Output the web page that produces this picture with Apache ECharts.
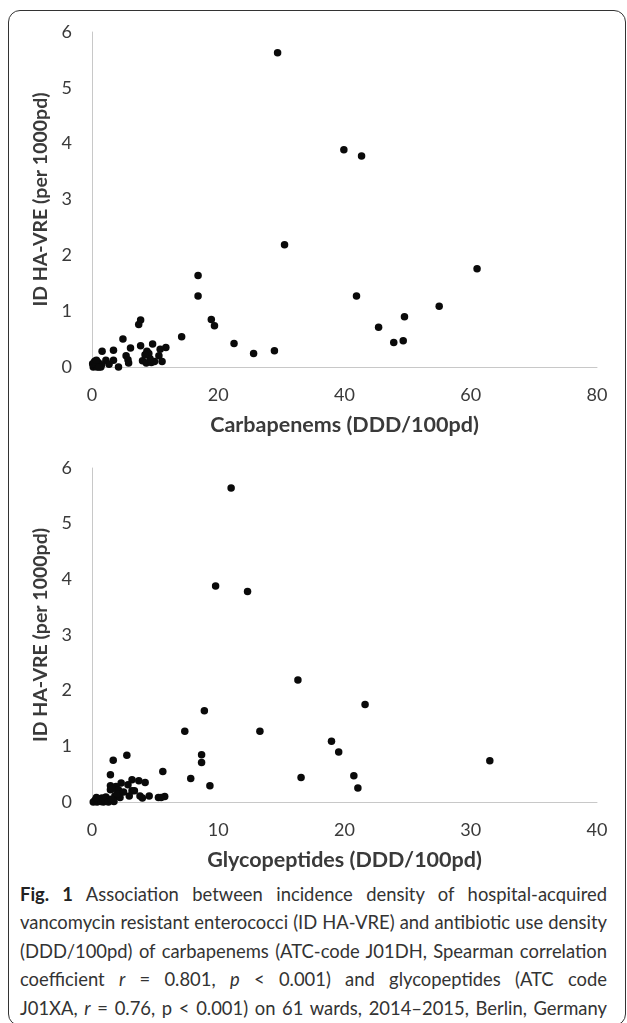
<!DOCTYPE html>
<html>
<head>
<meta charset="utf-8">
<script src="https://cdn.jsdelivr.net/npm/echarts@6/dist/echarts.min.js"></script>
<style>
  html, body { margin: 0; padding: 0; background: #fff; width: 627px; height: 1023px; overflow: hidden; }
  #frame { position: absolute; left: 8px; top: 10px; width: 618px; height: 1016px; border: 1.5px solid #333; border-radius: 12px; box-sizing: border-box; }
  #chart { position: absolute; left: 0; top: 0; width: 627px; height: 875px; }
  #caption { position: absolute; left: 20px; top: 880px; width: 587px; font-family: Lato, "Open Sans", sans-serif; font-size: 18.4px; line-height: 28.4px; color: #333; }
  #caption div { text-align: justify; text-align-last: justify; white-space: nowrap; }
  #caption b { color: #222; }
</style>
</head>
<body>
<div id="frame"></div>
<div id="chart"></div>
<div id="caption">
<div><b>Fig. 1</b> Association between incidence density of hospital-acquired</div>
<div>vancomycin resistant enterococci (ID HA-VRE) and antibiotic use density</div>
<div>(DDD/100pd) of carbapenems (ATC-code J01DH, Spearman correlation</div>
<div>coefficient <i>r</i> = 0.801, <i>p</i> &lt; 0.001) and glycopeptides (ATC code</div>
<div>J01XA, <i>r</i> = 0.76, p &lt; 0.001) on 61 wards, 2014–2015, Berlin, Germany</div>
</div>
<script>
// Carbapenems (DDD/100pd) vs ID HA-VRE
const carbapenemsX = [29.4, 39.9, 42.7, 30.5, 61.0, 16.8, 16.8, 41.9, 55.0, 49.5, 18.9, 19.4, 45.4, 14.2, 22.5, 47.8, 49.3, 25.6, 28.9, 7.7, 7.4, 4.9, 7.7, 9.6, 11.7, 10.8, 6.1, 3.4, 1.6, 8.7, 9.0, 5.4, 10.6, 5.7, 5.8, 8.0, 8.6, 9.4, 9.9, 11.1, 2.2, 3.4, 2.7, 4.2, 0.6, 0.2, 0.3, 0.5, 0.6, 0.8, 0.9, 1.0, 1.2, 1.4, 1.5, 0.1, 0.4, 1.1, 0.7, 9.2, 8.4];
const carbapenemsY = [5.63, 3.89, 3.78, 2.19, 1.76, 1.64, 1.27, 1.27, 1.09, 0.90, 0.85, 0.74, 0.71, 0.54, 0.42, 0.44, 0.47, 0.24, 0.29, 0.84, 0.76, 0.50, 0.38, 0.41, 0.35, 0.32, 0.34, 0.30, 0.28, 0.28, 0.24, 0.20, 0.20, 0.13, 0.07, 0.11, 0.07, 0.08, 0.10, 0.10, 0.12, 0.12, 0.05, 0.00, 0.11, 0.00, 0.04, 0.07, 0.02, 0.00, 0.05, 0.08, 0.02, 0.00, 0.04, 0.06, 0.10, 0.00, 0.12, 0.15, 0.22];
// Glycopeptides (DDD/100pd) vs ID HA-VRE
const glycoX = [11.02, 9.79, 12.32, 16.31, 21.63, 8.90, 7.35, 13.30, 18.97, 19.54, 8.68, 8.68, 31.51, 2.76, 1.68, 5.61, 1.46, 7.82, 16.56, 20.74, 9.34, 21.06, 3.17, 3.71, 4.21, 2.31, 2.85, 1.46, 1.90, 1.46, 2.09, 3.17, 3.36, 1.81, 2.22, 2.95, 3.80, 3.99, 4.53, 5.26, 5.76, 5.48, 1.74, 1.20, 0.79, 0.1, 0.2, 0.3, 0.4, 0.5, 0.6, 0.7, 0.9, 1.0, 1.1, 1.3, 1.5, 0.35, 2.0, 2.5, 1.6];
const glycoY = [5.64, 3.88, 3.78, 2.19, 1.75, 1.64, 1.27, 1.27, 1.09, 0.90, 0.85, 0.71, 0.74, 0.84, 0.75, 0.55, 0.49, 0.42, 0.44, 0.47, 0.29, 0.25, 0.40, 0.38, 0.35, 0.34, 0.31, 0.29, 0.28, 0.22, 0.22, 0.20, 0.20, 0.11, 0.08, 0.11, 0.11, 0.07, 0.11, 0.08, 0.10, 0.08, 0.01, 0.02, 0.07, 0.00, 0.02, 0.05, 0.00, 0.03, 0.06, 0.01, 0.00, 0.04, 0.09, 0.00, 0.05, 0.08, 0.15, 0.18, 0.24];

const xTitles = ['Carbapenems (DDD/100pd)', 'Glycopeptides (DDD/100pd)'];
const yTitle = 'ID HA-VRE (per 1000pd)';
const xMax = [80, 40];
const xInterval = [20, 10];

const chartFont = 'Lato, "Open Sans", sans-serif';
const pairs = (xs, ys) => xs.map((x, i) => [x, ys[i]]);

const grids = [
  { left: 92, width: 505, top: 32, height: 335 },
  { left: 92, width: 505, top: 468, height: 334 }
];

const xAxes = [0, 1].map(i => ({
  type: 'value', gridIndex: i, min: 0, max: xMax[i], interval: xInterval[i],
  name: xTitles[i], nameLocation: 'middle', nameGap: 47,
  nameTextStyle: { fontFamily: chartFont, fontWeight: 'bold', fontSize: 21.5, color: '#3a3a3a' },
  axisLine: { show: true, lineStyle: { color: '#c8c8c8', width: 1 } },
  axisTick: { show: false },
  splitLine: { show: false },
  axisLabel: { fontFamily: chartFont, fontSize: 18, color: '#3a3a3a', margin: 19 }
}));

const yAxes = [0, 1].map(i => ({
  type: 'value', gridIndex: i, min: 0, max: 6, interval: 1,
  name: yTitle, nameLocation: 'middle', nameGap: 34, nameRotate: 90,
  nameTextStyle: { fontFamily: chartFont, fontWeight: 'bold', fontSize: 19.5, color: '#3a3a3a' },
  axisLine: { show: true, lineStyle: { color: '#c8c8c8', width: 1 } },
  axisTick: { show: false },
  splitLine: { show: false },
  axisLabel: { fontFamily: chartFont, fontSize: 18, color: '#3a3a3a', margin: 20 }
}));

const chart = echarts.init(document.getElementById('chart'), null, { renderer: 'canvas' });
chart.setOption({
  animation: false,
  backgroundColor: 'transparent',
  grid: grids,
  xAxis: xAxes,
  yAxis: yAxes,
  series: [
    { type: 'scatter', xAxisIndex: 0, yAxisIndex: 0, symbolSize: 7.5, itemStyle: { color: '#0a0a0a', opacity: 1 }, data: pairs(carbapenemsX, carbapenemsY) },
    { type: 'scatter', xAxisIndex: 1, yAxisIndex: 1, symbolSize: 7.5, itemStyle: { color: '#0a0a0a', opacity: 1 }, data: pairs(glycoX, glycoY) }
  ]
});
</script>
</body>
</html>
